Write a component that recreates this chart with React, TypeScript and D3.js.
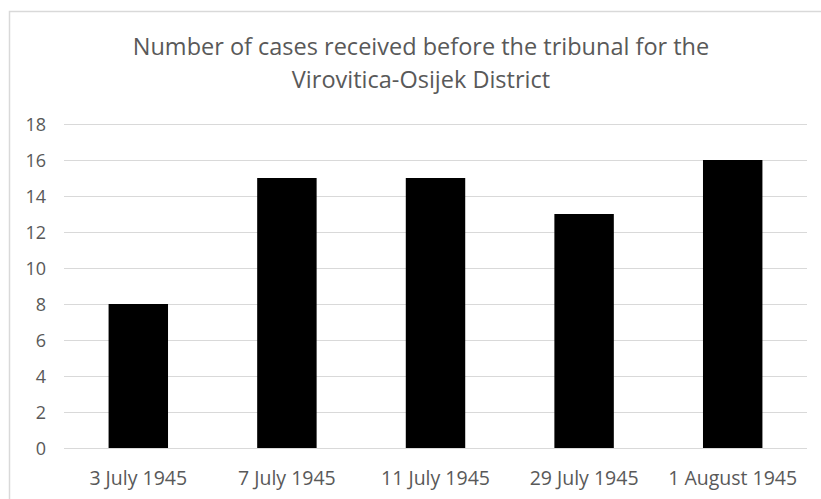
import React, { useEffect, useRef } from 'react';
import * as d3 from 'd3';

const categories = ['3 July 1945', '7 July 1945', '11 July 1945', '29 July 1945', '1 August 1945'];
const cases = [8, 15, 15, 13, 16];
const yTicks = [0, 2, 4, 6, 8, 10, 12, 14, 16, 18];
const titleLines = ['Number of cases received before the tribunal for the', 'Virovitica-Osijek District'];

const App: React.FC = () => {
  const svgRef = useRef<SVGSVGElement>(null);

  useEffect(() => {
    if (!svgRef.current) return;
    const svg = d3.select(svgRef.current);
    svg.selectAll('*').remove();

    const width = 821;
    const height = 499;
    const margin = { top: 124, right: 14, bottom: 51, left: 64 };
    const font = "'Open Sans', 'Liberation Sans', sans-serif";

    svg.append('rect')
      .attr('width', width).attr('height', height).attr('fill', '#fff');

    // outer chart border (cut off on right and bottom)
    svg.append('rect')
      .attr('x', 9.5).attr('y', 11.5)
      .attr('width', width).attr('height', height)
      .attr('fill', 'none')
      .attr('stroke', '#d9d9d9')
      .attr('stroke-width', 1.5);

    const x = d3.scaleBand()
      .domain(categories)
      .range([margin.left, width - margin.right])
      .paddingInner(0.6)
      .paddingOuter(0.3);

    const y = d3.scaleLinear()
      .domain([0, 18])
      .range([height - margin.bottom, margin.top]);

    // gridlines
    svg.append('g')
      .selectAll('line')
      .data(yTicks)
      .enter().append('line')
      .attr('x1', margin.left).attr('x2', width - margin.right)
      .attr('y1', d => Math.round(y(d)) + 0.5)
      .attr('y2', d => Math.round(y(d)) + 0.5)
      .attr('stroke', '#d9d9d9')
      .attr('stroke-width', 1);

    // y tick labels
    svg.append('g')
      .selectAll('text')
      .data(yTicks)
      .enter().append('text')
      .attr('x', 46)
      .attr('y', d => y(d) + 6.5)
      .attr('text-anchor', 'end')
      .attr('font-family', font)
      .attr('font-size', 18)
      .attr('fill', '#595959')
      .text(d => d);

    // bars
    svg.append('g')
      .selectAll('rect')
      .data(cases)
      .enter().append('rect')
      .attr('x', (_, i) => x(categories[i]) as number)
      .attr('width', x.bandwidth())
      .attr('y', d => y(d))
      .attr('height', d => y(0) - y(d))
      .attr('fill', '#000');

    // x labels
    svg.append('g')
      .selectAll('text')
      .data(categories)
      .enter().append('text')
      .attr('x', d => (x(d) as number) + x.bandwidth() / 2)
      .attr('y', 485)
      .attr('text-anchor', 'middle')
      .attr('font-family', font)
      .attr('font-size', 19.5)
      .attr('fill', '#595959')
      .text(d => d);

    // title
    svg.append('g')
      .selectAll('text')
      .data(titleLines)
      .enter().append('text')
      .attr('x', 421)
      .attr('y', (_, i) => 55 + i * 33)
      .attr('text-anchor', 'middle')
      .attr('font-family', font)
      .attr('font-size', 23.5)
      .attr('fill', '#595959')
      .text(d => d);
  }, []);

  return (
    <svg ref={svgRef} width={821} height={499}
      style={{ position: 'absolute', left: 0, top: 0, display: 'block' }} />
  );
};

export default App;
